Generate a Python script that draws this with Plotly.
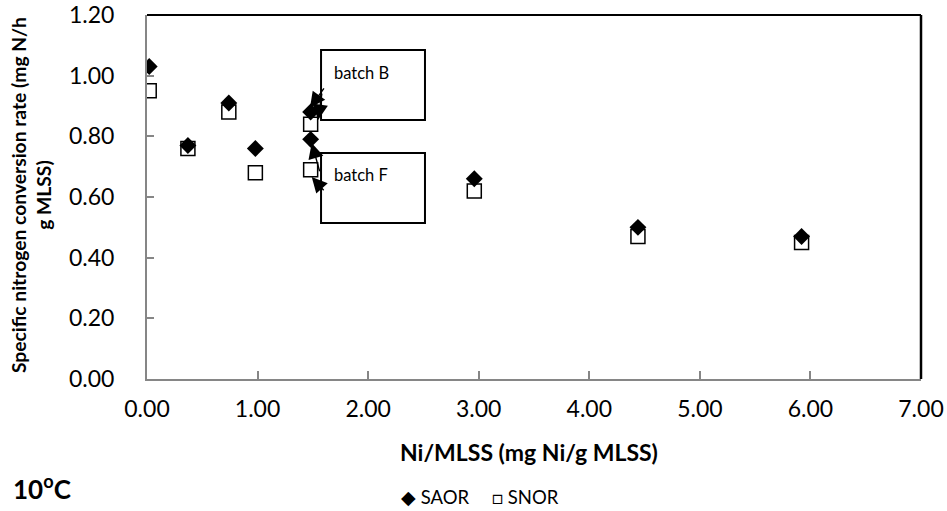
import plotly.graph_objects as go

# Ni dose per biomass (mg Ni / g MLSS)
ni_saor = [0.02, 0.37, 0.74, 0.98, 1.48, 1.48, 2.96, 4.44, 5.92]
ni_snor = [0.02, 0.37, 0.74, 0.98, 1.48, 1.48, 2.96, 4.44, 5.92]
# Specific conversion rates (mg N / h g MLSS)
saor = [1.03, 0.77, 0.91, 0.76, 0.88, 0.79, 0.66, 0.50, 0.47]
snor = [0.95, 0.76, 0.88, 0.68, 0.84, 0.69, 0.62, 0.47, 0.45]

y_ticks = [0.0, 0.2, 0.4, 0.6, 0.8, 1.0, 1.2]
x_ticks = [0, 1, 2, 3, 4, 5, 6, 7]

FONT = "Lato"

fig = go.Figure()
fig.add_trace(go.Scatter(
    x=ni_snor, y=snor, mode="markers", name="SNOR", showlegend=False,
    marker=dict(symbol="square", size=14, color="white",
                line=dict(color="black", width=1.5)),
))
fig.add_trace(go.Scatter(
    x=ni_saor, y=saor, mode="markers", name="SAOR", showlegend=False,
    marker=dict(symbol="diamond", size=13, color="black",
                line=dict(color="black", width=0)),
))

# callout boxes
fig.add_shape(type="rect", xref="x", yref="y", x0=1.574, x1=2.514, y0=0.854, y1=1.085,
              line=dict(color="black", width=2), fillcolor="white", layer="below")
fig.add_shape(type="rect", xref="x", yref="y", x0=1.574, x1=2.514, y0=0.514, y1=0.745,
              line=dict(color="black", width=2), fillcolor="white", layer="below")
fig.add_annotation(x=1.673, y=1.009, xref="x", yref="y", text="batch B", showarrow=False,
                   xanchor="left", font=dict(family=FONT, size=16.5, color="black"))
fig.add_annotation(x=1.673, y=0.673, xref="x", yref="y", text="batch F", showarrow=False,
                   xanchor="left", font=dict(family=FONT, size=16.5, color="black"))

# callout pointers: (head), (tail)
arrows = [
    ((1.474, 0.894), (1.61, 0.963)),
    ((1.547, 0.854), (1.583, 0.946)),
    ((1.49, 0.778), (1.565, 0.68)),
    ((1.49, 0.666), (1.61, 0.617)),
]
for (hx, hy), (tx, ty) in arrows:
    fig.add_annotation(x=hx, y=hy, ax=tx, ay=ty, xref="x", yref="y", axref="x", ayref="y",
                       text="", showarrow=True, arrowhead=2, arrowsize=2.2, arrowwidth=1.4,
                       arrowcolor="black")

# black top and right frame
fig.add_shape(type="line", xref="paper", yref="paper", x0=0, x1=1, y0=1, y1=1,
              line=dict(color="black", width=2))
fig.add_shape(type="line", xref="paper", yref="paper", x0=1, x1=1, y0=0, y1=1,
              line=dict(color="black", width=2.5))

# axis titles
fig.add_annotation(x=0.493, y=-0.2005, xref="paper", yref="paper",
                   text="<b>Ni/MLSS (mg Ni/g MLSS)</b>", showarrow=False,
                   xanchor="center", yanchor="middle",
                   font=dict(family=FONT, size=23, color="black"))
fig.add_annotation(x=-0.150, y=0.505, xref="paper", yref="paper", textangle=-90,
                   text="<b>Specific nitrogen conversion rate (mg N/h<br>g MLSS)</b>",
                   showarrow=False, xanchor="center", yanchor="middle",
                   font=dict(family=FONT, size=19.3, color="black"))

fig.add_annotation(x=-0.176, y=-0.298, xref="paper", yref="paper",
                   text="<b>10<sup>o</sup>C</b>", showarrow=False,
                   xanchor="left", yanchor="middle",
                   font=dict(family=FONT, size=26, color="black"))

# series key
fig.add_annotation(x=(399 - 147) / 774, y=-0.324, xref="paper", yref="paper",
                   text="\u25c6 SAOR", showarrow=False, xanchor="left", yanchor="middle",
                   font=dict(family=FONT, size=18.5, color="black"))
fig.add_annotation(x=(490 - 147) / 774, y=-0.324, xref="paper", yref="paper",
                   text="\u25a1 SNOR", showarrow=False, xanchor="left", yanchor="middle",
                   font=dict(family=FONT, size=18.5, color="black"))

fig.update_xaxes(
    range=[0, 7], tickvals=x_ticks, ticktext=[f"{v:.2f}" for v in x_ticks],
    showgrid=False, zeroline=False, showline=True, linecolor="#868686", linewidth=2,
    ticks="inside", ticklen=8, tickcolor="#868686", tickwidth=1.5,
    ticklabelstandoff=8, automargin=False,
    tickfont=dict(family=FONT, size=23, color="black"),
)
fig.update_yaxes(
    range=[0, 1.2], tickvals=y_ticks, ticktext=[f"{v:.2f}" for v in y_ticks],
    showgrid=False, zeroline=False, showline=True, linecolor="#868686", linewidth=2,
    ticks="inside", ticklen=7, tickcolor="#868686", tickwidth=1.5,
    ticklabelstandoff=26, automargin=False,
    tickfont=dict(family=FONT, size=23, color="black"),
)

fig.update_layout(
    width=947, height=511,
    margin=dict(l=147, r=26, t=15, b=132, autoexpand=False),
    plot_bgcolor="white", paper_bgcolor="white",
    showlegend=False,
)

fig.write_html("out.html")
